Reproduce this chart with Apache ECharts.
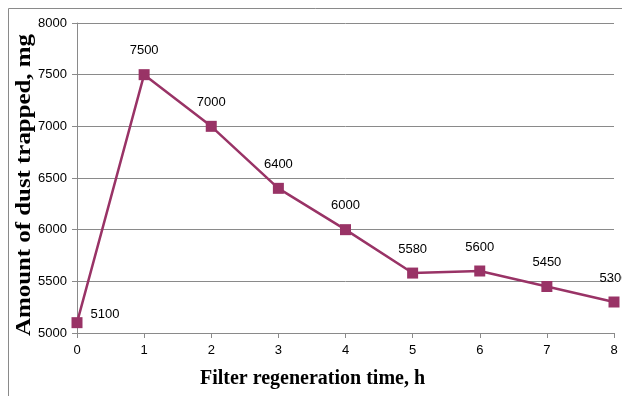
<!DOCTYPE html>
<html><head><meta charset="utf-8">
<script src="https://cdn.jsdelivr.net/npm/echarts@6/dist/echarts.min.js"></script>
<style>html,body{margin:0;padding:0;background:#fff}#c{width:622px;height:396px}</style>
</head><body><div id="c"></div>
<script>
const categories = ['0','1','2','3','4','5','6','7','8'];
const dustValues = [5100, 7500, 7000, 6400, 6000, 5580, 5600, 5450, 5300];
const yTicks = [5000, 5500, 6000, 6500, 7000, 7500, 8000];
const xTitle = 'Filter regeneration time, h';
const yTitle = 'Amount of dust trapped, mg';

const chart = echarts.init(document.getElementById('c'), null, {renderer:'canvas'});
const seriesData = dustValues.map((v,i)=>{
  const d = {value:v};
  if(i===0) d.label = {position:'right', distance:8, offset:[0,-8]};
  return d;
});
chart.setOption({
  animation:false,
  graphic:[
    {type:'rect', shape:{x:8.5,y:8.5,width:700,height:500}, style:{fill:'none', stroke:'#8a8a8a', lineWidth:1}},
    {type:'text', x:24, y:185, rotation:Math.PI/2, scaleX:1.13,
     style:{text:yTitle, font:'bold 22px "Liberation Serif"', fill:'#000', align:'center', verticalAlign:'middle'}}
  ],
  grid:{left:77, right:8, top:23, bottom:63, containLabel:false, outerBoundsMode:'none'},
  xAxis:{
    type:'category', data:categories, boundaryGap:false,
    axisLine:{lineStyle:{color:'#8a8a8a'}},
    axisTick:{show:true, alignWithLabel:true, length:5, lineStyle:{color:'#8a8a8a'}},
    axisLabel:{color:'#000', fontSize:13, fontFamily:'Liberation Sans', margin:11},
    name:xTitle, nameLocation:'middle', nameGap:36,
    nameTextStyle:{color:'#000', fontSize:20, fontWeight:'bold', fontFamily:'Liberation Serif', padding:[0,66,0,0]}
  },
  yAxis:{
    type:'value', min:yTicks[0], max:yTicks[yTicks.length-1], interval:500,
    axisLine:{show:true, lineStyle:{color:'#8a8a8a'}},
    axisTick:{show:true, length:5, lineStyle:{color:'#8a8a8a'}},
    splitLine:{show:true, lineStyle:{color:'#8a8a8a'}},
    axisLabel:{color:'#000', fontSize:13, fontFamily:'Liberation Sans', margin:10, formatter:v=>String(v)}
  },
  series:[{
    type:'line', data:seriesData,
    symbol:'rect', symbolSize:11,
    lineStyle:{color:'#993366', width:2.5},
    itemStyle:{color:'#993366'},
    label:{show:true, position:'top', distance:12, color:'#000', fontSize:13, fontFamily:'Liberation Sans'}
  }]
});
</script></body></html>
